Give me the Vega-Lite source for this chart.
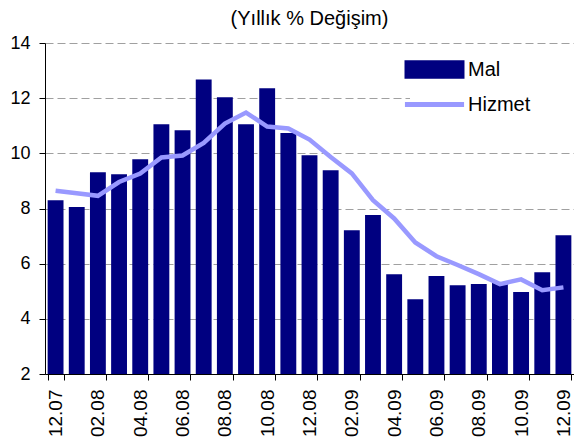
{
  "$schema": "https://vega.github.io/schema/vega-lite/v6.json",
  "autosize": {"type": "none"},
  "padding": {"left": 45, "top": 43, "right": 0, "bottom": 70},
  "width": 529,
  "height": 331,
  "background": "white",
  "title": {"text": "(Yıllık % Değişim)", "font": "Liberation Sans", "fontSize": 20, "fontWeight": "normal", "color": "black", "anchor": "middle", "frame": "group", "baseline": "bottom", "offset": 12, "dy": 27},
  "config": {"view": {"stroke": null}},
  "data": {"values": [
    {"month": "12.07", "Mal": 8.30, "Hizmet": 8.64},
    {"month": "01.08", "Mal": 8.05, "Hizmet": 8.55},
    {"month": "02.08", "Mal": 9.31, "Hizmet": 8.46},
    {"month": "03.08", "Mal": 9.24, "Hizmet": 8.96},
    {"month": "04.08", "Mal": 9.79, "Hizmet": 9.27},
    {"month": "05.08", "Mal": 11.05, "Hizmet": 9.85},
    {"month": "06.08", "Mal": 10.84, "Hizmet": 9.92},
    {"month": "07.08", "Mal": 12.68, "Hizmet": 10.38},
    {"month": "08.08", "Mal": 12.03, "Hizmet": 11.08},
    {"month": "09.08", "Mal": 11.05, "Hizmet": 11.48},
    {"month": "10.08", "Mal": 12.36, "Hizmet": 10.97},
    {"month": "11.08", "Mal": 10.74, "Hizmet": 10.90},
    {"month": "12.08", "Mal": 9.93, "Hizmet": 10.50},
    {"month": "01.09", "Mal": 9.39, "Hizmet": 9.87},
    {"month": "02.09", "Mal": 7.21, "Hizmet": 9.27},
    {"month": "03.09", "Mal": 7.76, "Hizmet": 8.30},
    {"month": "04.09", "Mal": 5.62, "Hizmet": 7.64},
    {"month": "05.09", "Mal": 4.71, "Hizmet": 6.77},
    {"month": "06.09", "Mal": 5.55, "Hizmet": 6.27},
    {"month": "07.09", "Mal": 5.22, "Hizmet": 5.95},
    {"month": "08.09", "Mal": 5.26, "Hizmet": 5.62},
    {"month": "09.09", "Mal": 5.30, "Hizmet": 5.26},
    {"month": "10.09", "Mal": 4.97, "Hizmet": 5.43},
    {"month": "11.09", "Mal": 5.69, "Hizmet": 5.04},
    {"month": "12.09", "Mal": 7.03, "Hizmet": 5.14}
  ]},
  "encoding": {
    "x": {
      "field": "month", "type": "nominal", "sort": null,
      "scale": {"paddingInner": 0.25, "paddingOuter": 0.125},
      "axis": {
        "title": null,
        "values": ["12.07", "02.08", "04.08", "06.08", "08.08", "10.08", "12.08", "02.09", "04.09", "06.09", "08.09", "10.09", "12.09"],
        "tickBand": "extent",
        "labelAngle": 270,
        "labelFont": "Liberation Sans", "labelFontSize": 19, "labelColor": "black",
        "labelPadding": 9,
        "tickColor": "black", "tickSize": 6,
        "domainColor": "black", "domainWidth": 1,
        "grid": false
      }
    }
  },
  "layer": [
    {
      "mark": {"type": "bar"},
      "encoding": {
        "y": {
          "field": "Mal", "type": "quantitative",
          "scale": {"domain": [2, 14], "zero": false, "nice": false},
          "axis": {
            "title": null, "values": [2, 4, 6, 8, 10, 12, 14],
            "labelFont": "Liberation Sans", "labelFontSize": 18, "labelColor": "black",
            "labelPadding": 9,
            "tickColor": "black", "tickSize": 6,
            "domainColor": "black", "domainWidth": 1,
            "grid": true, "gridColor": "#a0a0a0", "gridDash": [8, 4], "gridWidth": 1
          }
        },
        "y2": {"datum": 2},
        "color": {"datum": "Mal", "type": "nominal",
          "scale": {"domain": ["Mal", "Hizmet"], "range": ["#000080", "#9999FF"]},
          "legend": {
            "title": null, "orient": "none", "legendX": 365, "legendY": 2,
            "fillColor": "white", "padding": 8,
            "symbolSize": 756,
            "labelFont": "Liberation Sans", "labelFontSize": 20, "labelColor": "black",
            "labelOffset": 17, "rowPadding": 1,
            "encode": {"symbols": {"update": {
              "shape": {"signal": "datum.value === 'Mal' ? 'M-4.55,0M9.2,0M-2,-0.5H2V0.5H-2Z' : 'M-2.15,0H2.15'"},
              "fill": {"signal": "datum.value === 'Mal' ? '#000080' : 'transparent'"},
              "stroke": {"signal": "datum.value === 'Mal' ? 'transparent' : '#9999FF'"},
              "strokeWidth": {"value": 5},
              "opacity": {"value": 1}
            }}}
          }
        }
      }
    },
    {
      "mark": {"type": "line", "strokeWidth": 4.5},
      "encoding": {
        "y": {"field": "Hizmet", "type": "quantitative"},
        "color": {"datum": "Hizmet", "type": "nominal"}
      }
    }
  ]
}
